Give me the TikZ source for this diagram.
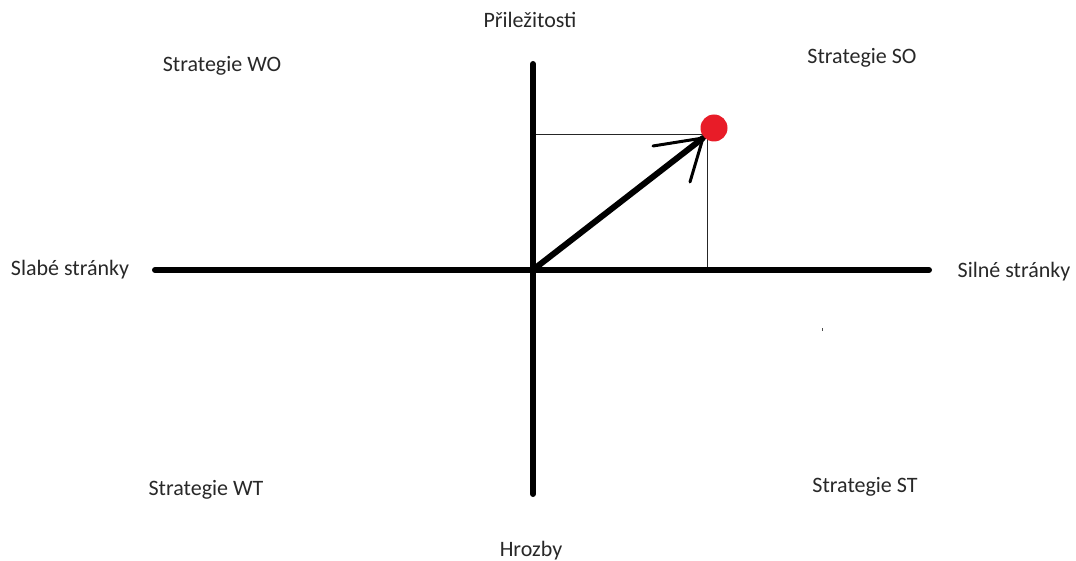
\documentclass[tikz,border=0pt]{standalone}
\usepackage{fontspec}
\setmainfont{Carlito}
\usetikzlibrary{positioning}
\definecolor{dotred}{RGB}{232,28,40}
\definecolor{txtgray}{RGB}{40,40,40}
\begin{document}
\begin{tikzpicture}[x=1pt,y=-1pt]
\tikzstyle{every node}=[font=\fontsize{22}{24}\selectfont, text=txtgray]
\tikzstyle{axis}=[line width=6pt, line cap=round]
\tikzstyle{thin}=[line width=0.9pt, black!85]
\useasboundingbox (0,0) rectangle (1076,561);
\coordinate (o) at (534,269);
\coordinate (left) at (155,270);
\coordinate (right) at (929,270);
\coordinate (top) at (533,64);
\coordinate (bottom) at (533,494);
\coordinate (tip) at (703,138);
\coordinate (px) at (707,270);
\coordinate (py) at (533,134);
\coordinate (pt) at (707,134);
\coordinate (barba) at (653,146);
\coordinate (barbb) at (690,182);
\draw [thin] (py) -- (pt) -- (px);
\draw [axis] (left) -- (right);
\draw [axis] (top) -- (bottom);
\draw [line width=6pt, line cap=round] (o) -- (tip);
\draw [line width=3pt, line cap=round] (barba) -- (tip) -- (barbb);
\fill [dotred] (714,128) circle (13.5);
\fill [black!70] (821.5,327.5) rectangle (823,331);
\node (weak) at (70,270) {Slabé stránky};
\node (strong) at (1014,272) {Silné stránky};
\node (opp) at (530,20) {Přiležitosti};
\node (thr) at (531,551) {Hrozby};
\node (wo) at (222,66) {Strategie WO};
\node (so) at (862,58) {Strategie SO};
\node (wt) at (206,490) {Strategie WT};
\node (st) at (865,487) {Strategie ST};
\end{tikzpicture}
\end{document}
